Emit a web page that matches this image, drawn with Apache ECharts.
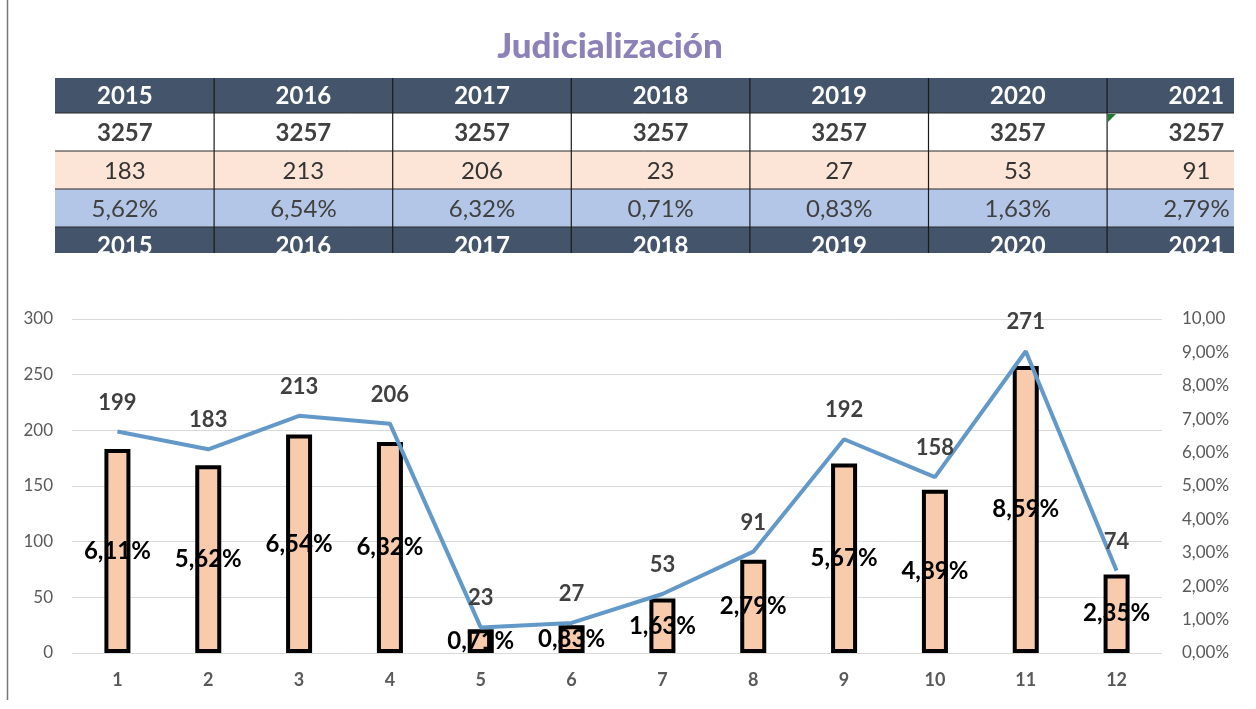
<!DOCTYPE html>
<html>
<head>
<meta charset="utf-8">
<script src="https://cdn.jsdelivr.net/npm/echarts@6/dist/echarts.min.js"></script>
<style>
  html, body { margin: 0; background: #fff; }
  #main { width: 1256px; height: 709px; }
</style>
</head>
<body>
<div id="main"></div>
<script>
// chart data
const months = ['1', '2', '3', '4', '5', '6', '7', '8', '9', '10', '11', '12'];
const cases = [199, 183, 213, 206, 23, 27, 53, 91, 192, 158, 271, 74];
const shares = [0.0611, 0.0562, 0.0654, 0.0632, 0.0071, 0.0083, 0.0163, 0.0279, 0.0567, 0.0489, 0.0859, 0.0235];

// table data
const years = ['2015', '2016', '2017', '2018', '2019', '2020', '2021'];
const totals = [3257, 3257, 3257, 3257, 3257, 3257, 3257];
const yearCases = [183, 213, 206, 23, 27, 53, 91];
const yearShares = [0.0562, 0.0654, 0.0632, 0.0071, 0.0083, 0.0163, 0.0279];

function pct(v) {
  return (v * 100).toFixed(2).replace('.', ',') + '%';
}

const FONT = 'Lato';

// table layout (the table is a cropped screenshot, so columns run past the edges)
const tblLeft = 55, tblRight = 1234, colStart = 35.5, colW = 178.6;
const rowTops = [78, 113, 151, 189, 227];
const rowH = [35, 38, 38, 38, 36];
const rowFill = ['#44546A', '#FFFFFF', '#FCE4D6', '#B4C6E7', '#44546A'];
const rowColor = ['#FFFFFF', '#404040', '#333333', '#404040', '#FFFFFF'];
const rowWeight = ['bold', 'bold', 'normal', 'normal', 'bold'];
const rowTexts = [
  years,
  totals.map(String),
  yearCases.map(String),
  yearShares.map(pct),
  years
];

const graphics = [];
rowTops.forEach((top, r) => {
  graphics.push({
    type: 'rect', z: 1,
    shape: { x: tblLeft, y: top, width: tblRight - tblLeft, height: rowH[r] },
    style: { fill: rowFill[r] }
  });
  rowTexts[r].forEach((t, c) => {
    graphics.push({
      type: 'text', z: 2,
      x: colStart + colW * (c + 0.5), y: top + rowH[r] / 2 + 1,
      style: {
        text: t, fill: rowColor[r], font: rowWeight[r] + ' 24px ' + FONT,
        textAlign: 'center', textVerticalAlign: 'middle'
      }
    });
  });
  if (r > 0) {
    graphics.push({
      type: 'line', z: 3,
      shape: { x1: tblLeft, y1: top, x2: tblRight, y2: top },
      style: { stroke: '#2b2b2b', lineWidth: 1 }
    });
  }
});
for (let k = 1; k < years.length; k++) {
  const x = colStart + colW * k;
  graphics.push({
    type: 'line', z: 3,
    shape: { x1: x, y1: 78, x2: x, y2: 253 },
    style: { stroke: '#1a1a1a', lineWidth: 1.2 }
  });
}
// crop the last header row
graphics.push({
  type: 'rect', z: 4,
  shape: { x: 40, y: 253, width: 1216, height: 20 },
  style: { fill: '#FFFFFF' }
});
// small comment marker in the table
graphics.push({
  type: 'polygon', z: 4,
  shape: { points: [[1108, 114], [1116, 114], [1108, 122]] },
  style: { fill: '#1E7B34' }
});
// frame line on the left
graphics.push({
  type: 'line', z: 4,
  shape: { x1: 7.5, y1: 0, x2: 7.5, y2: 700 },
  style: { stroke: '#777777', lineWidth: 1.5 }
});
// heading
graphics.push({
  type: 'text', z: 4,
  x: 610, y: 47,
  style: {
    text: 'Judicialización', fill: '#8D82B8', font: '900 35px ' + FONT,
    textAlign: 'center', textVerticalAlign: 'middle'
  }
});

const option = {
  animation: false,
  backgroundColor: '#fff',
  textStyle: { fontFamily: FONT },
  graphic: graphics,
  grid: { left: 72, right: 94, top: 319, bottom: 56 },
  xAxis: {
    type: 'category',
    data: months,
    axisLine: { show: false },
    axisTick: { show: false },
    axisLabel: { color: '#595959', fontSize: 18, fontWeight: 'bold', margin: 18 }
  },
  yAxis: [
    {
      type: 'value', min: 0, max: 300, interval: 50,
      axisLine: { show: false }, axisTick: { show: false },
      splitLine: { lineStyle: { color: '#D9D9D9', width: 1 } },
      axisLabel: { color: '#595959', fontSize: 17, margin: 19 }
    },
    {
      type: 'value', min: 0, max: 0.1, interval: 0.01,
      axisLine: { show: false }, axisTick: { show: false },
      splitLine: { show: false },
      axisLabel: {
        color: '#595959', fontSize: 17, margin: 20,
        width: 56, overflow: 'truncate', ellipsis: '',
        formatter: pct
      }
    }
  ],
  series: [
    {
      type: 'bar',
      yAxisIndex: 1,
      data: shares,
      barWidth: 26,
      itemStyle: { color: '#F8CBAD', borderColor: '#000', borderWidth: 4 },
      label: {
        show: true, position: 'inside', color: '#000',
        fontSize: 24, fontWeight: 'bold',
        formatter: p => pct(p.value)
      }
    },
    {
      type: 'line',
      yAxisIndex: 0,
      data: cases,
      symbol: 'circle', symbolSize: 0,
      lineStyle: { color: '#6399C9', width: 4 },
      itemStyle: { color: '#6399C9' },
      label: {
        show: true, position: 'top', distance: 18,
        color: '#404040', fontSize: 22, fontWeight: 'bold'
      }
    }
  ]
};

const chart = echarts.init(document.getElementById('main'));
chart.setOption(option);
</script>
</body>
</html>
